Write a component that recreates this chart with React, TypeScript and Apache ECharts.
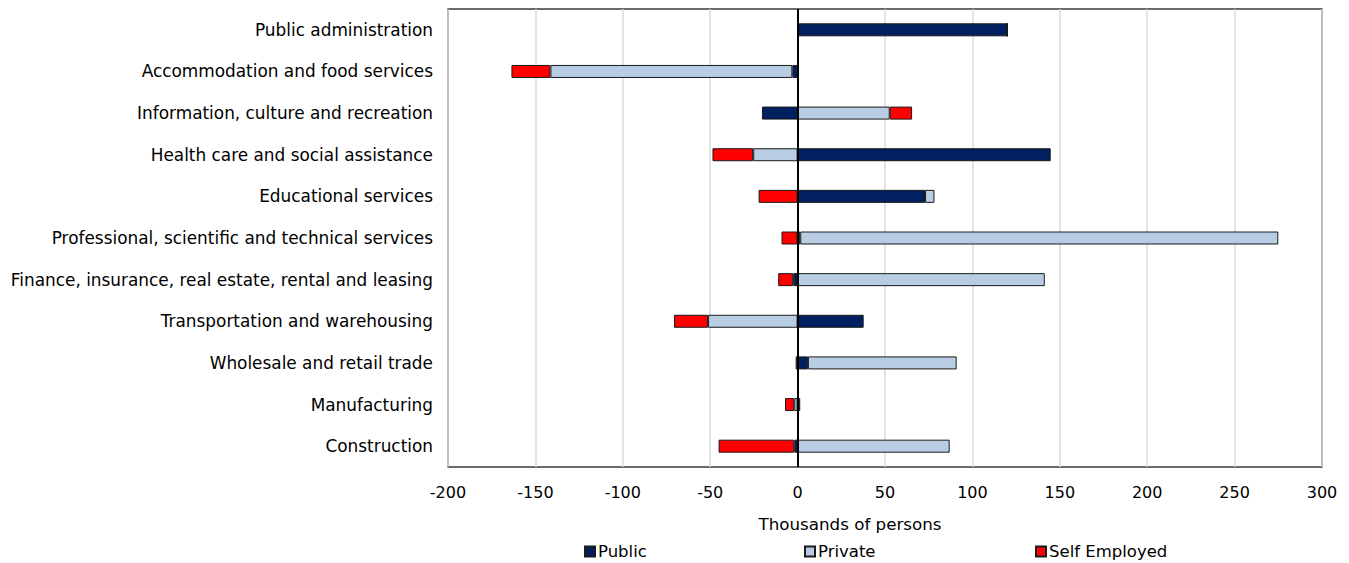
import React, { useEffect, useRef } from "react";
import * as echarts from "echarts";

const categories = [
  "Public administration",
  "Accommodation and food services",
  "Information, culture and recreation",
  "Health care and social assistance",
  "Educational services",
  "Professional, scientific and technical services",
  "Finance, insurance, real estate, rental and leasing",
  "Transportation and warehousing",
  "Wholesale and retail trade",
  "Manufacturing",
  "Construction",
];

const publicValues = [120, -3, -20.4, 144.8, 72.9, 1.5, -2.5, 37.8, 5.9, 1.5, -1.9];
const privateValues = [0, -138.4, 52.7, -25.4, 5.4, 273.5, 141.4, -51.2, 85.1, -1.9, 87];
const selfEmployedValues = [0, -22.3, 12.8, -23.3, -22.3, -9.2, -8.6, -19.5, -1.1, -5.3, -43.3];

const xTicks = { min: -200, max: 300, interval: 50 };
const FONT = "'DejaVu Sans', Verdana, sans-serif";

export default function App() {
  const ref = useRef<HTMLDivElement>(null);
  useEffect(() => {
    if (!ref.current) return;
    const chart = echarts.init(ref.current, null, { renderer: "svg" });
    const barStyle = (color: string) => ({
      color,
      borderColor: "#1a1a1a",
      borderWidth: 1,
    });
    const legendBase = {
      top: 543,
      padding: 0,
      itemWidth: 10,
      itemHeight: 10,
      itemGap: 4,
      icon: "rect",
      textStyle: { fontFamily: FONT, fontSize: 16.5, color: "#000", padding: [2, 0, 0, -2] },
    };
    chart.setOption({
      animation: false,
      textStyle: { fontFamily: FONT },
      grid: {
        left: 448,
        right: 27,
        top: 9,
        bottom: 96,
        show: true,
        borderColor: "#3a3a3a",
        borderWidth: 1.5,
        backgroundColor: "#fff",
      },
      legend: [
        { ...legendBase, left: 584, data: ["Public"] },
        { ...legendBase, left: 804, data: ["Private"] },
        { ...legendBase, left: 1035, data: ["Self Employed"] },
      ],
      xAxis: {
        type: "value",
        min: xTicks.min,
        max: xTicks.max,
        interval: xTicks.interval,
        name: "Thousands of persons",
        nameLocation: "middle",
        nameGap: 48,
        nameTextStyle: { fontFamily: FONT, fontSize: 16.7, color: "#000", padding: [0, 70, 0, 0] },
        axisLine: { show: false },
        axisTick: { show: false },
        axisLabel: { fontFamily: FONT, fontSize: 16, color: "#000", margin: 17 },
        splitLine: { show: true, lineStyle: { color: "#d9d9d9", width: 1.5 } },
      },
      yAxis: {
        type: "category",
        data: categories,
        inverse: true,
        axisLine: { show: false, onZero: false },
        axisTick: { show: false },
        axisLabel: { fontFamily: FONT, fontSize: 16.9, color: "#000", margin: 15 },
        splitLine: { show: false },
      },
      series: [
        {
          name: "Public",
          type: "bar",
          stack: "total",
          barWidth: 13,
          data: publicValues,
          itemStyle: barStyle("#002060"),
          markLine: {
            silent: true,
            symbol: "none",
            label: { show: false },
            lineStyle: { color: "#000", width: 2, type: "solid" },
            data: [{ xAxis: 0 }],
          },
        },
        {
          name: "Private",
          type: "bar",
          stack: "total",
          barWidth: 13,
          data: privateValues,
          itemStyle: barStyle("#B8CCE4"),
        },
        {
          name: "Self Employed",
          type: "bar",
          stack: "total",
          barWidth: 13,
          data: selfEmployedValues,
          itemStyle: barStyle("#FF0000"),
        },
      ],
    });
    return () => chart.dispose();
  }, []);
  return (
    <div
      ref={ref}
      style={{ position: "absolute", left: 0, top: 0, width: 1349, height: 563 }}
    />
  );
}
